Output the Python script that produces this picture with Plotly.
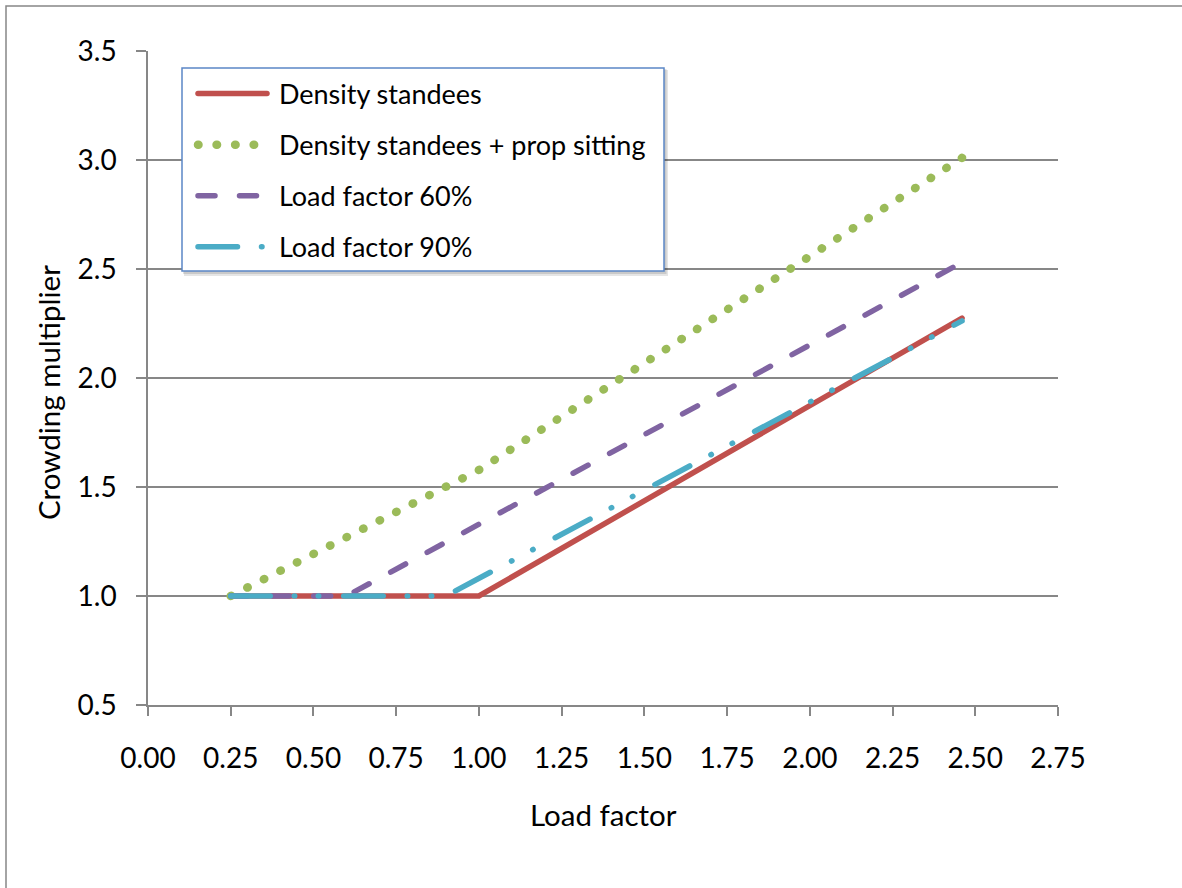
import plotly.graph_objects as go

# ---- data ----
density_x = [0.25, 1.0, 2.46]
density_y = [1.0, 1.0, 2.275]

prop_sitting_x = [0.25, 1.0, 2.46]
prop_sitting_y = [1.0, 1.578, 3.01]

lf60_x = [0.25, 0.6, 2.46]
lf60_y = [1.0, 1.0, 2.53]

lf90_x = [0.25, 0.9, 2.46]
lf90_y = [1.0, 1.0, 2.262]

series_names = ["Density standees", "Density standees + prop sitting",
                "Load factor 60%", "Load factor 90%"]

x_title = "Load factor"
y_title = "Crowding multiplier"

FONT = "Lato, Carlito, Calibri, sans-serif"
GRID = "#878787"
PAD = "\u00a0"

fig = go.Figure()
fig.add_trace(go.Scatter(x=density_x, y=density_y, mode="lines", name=PAD + series_names[0],
                         legendgroup="a", line=dict(color="#C0504D", width=5.5)))
fig.add_trace(go.Scatter(x=prop_sitting_x, y=prop_sitting_y, mode="lines", name=PAD + series_names[1],
                         legendgroup="b", line=dict(color="#9BBB59", width=8.5, dash="0.5px,18.05px")))
fig.add_trace(go.Scatter(x=lf60_x, y=lf60_y, mode="lines", name=PAD + series_names[2],
                         legendgroup="c", line=dict(color="#8064A2", width=5.5, dash="17px,24.5px")))
fig.add_trace(go.Scatter(x=lf90_x, y=lf90_y, mode="lines", name=PAD + series_names[3],
                         legendgroup="d", line=dict(color="#4BACC6", width=5.5,
                                                   dash="39.5px,24px,0.5px,23.5px,0.5px,25px")))

W, H = 1182, 888
L, R, T, B = 148, 124, 51, 183
pw, ph = W - L - R, H - T - B


def px(x):
    return (x - L) / pw


def py(y):
    return 1 - (y - T) / ph


fig.update_layout(
    width=W, height=H, autosize=False,
    margin=dict(l=L, r=R, t=T, b=B, pad=0),
    paper_bgcolor="white", plot_bgcolor="white",
    font=dict(family=FONT, size=27, color="black"),
    showlegend=True,
    legend=dict(
        x=px(193), y=py(69.5), xanchor="left", yanchor="top",
        bgcolor="rgba(0,0,0,0)", borderwidth=0,
        font=dict(family=FONT, size=27, color="black"),
        itemwidth=69, tracegroupgap=13, traceorder="grouped",
    ),
    xaxis=dict(
        range=[0, 2.75], dtick=0.25, tick0=0, tickformat=".2f",
        showgrid=False, zeroline=False,
        showline=True, linecolor=GRID, linewidth=1.5,
        ticks="outside", ticklen=9, tickwidth=1.5, tickcolor=GRID,
        ticklabelstandoff=19,
        tickfont=dict(family=FONT, size=28),
    ),
    yaxis=dict(
        range=[0.5, 3.5], dtick=0.5, tick0=0.5, tickformat=".1f",
        showgrid=True, gridcolor=GRID, gridwidth=1.5, zeroline=False,
        showline=True, linecolor=GRID, linewidth=1.5,
        ticks="outside", ticklen=10, tickwidth=1.5, tickcolor=GRID,
        ticklabelstandoff=14,
        tickfont=dict(family=FONT, size=28),
    ),
    annotations=[
        dict(text=x_title, xref="paper", yref="paper", x=px(603), y=py(814),
             xanchor="center", yanchor="middle", showarrow=False,
             font=dict(family=FONT, size=29.5)),
        dict(text=y_title, xref="paper", yref="paper", x=px(48), y=py(393),
             xanchor="center", yanchor="middle", showarrow=False, textangle=-90,
             font=dict(family=FONT, size=29.5)),
    ],
    shapes=[
        # outer chart border (extends past the right/bottom edges of the picture)
        dict(type="rect", xref="paper", yref="paper",
             x0=px(6), y0=py(6), x1=px(1200), y1=py(900),
             line=dict(color=GRID, width=1.5), fillcolor="rgba(0,0,0,0)", layer="below"),
        # soft legend shadow
        dict(type="rect", xref="paper", yref="paper",
             x0=px(184), y0=py(70), x1=px(668), y1=py(276),
             line=dict(width=0), fillcolor="rgba(0,0,0,0.10)", layer="above"),
        dict(type="rect", xref="paper", yref="paper",
             x0=px(183), y0=py(69), x1=px(666.5), y1=py(274),
             line=dict(width=0), fillcolor="rgba(0,0,0,0.12)", layer="above"),
        # legend box
        dict(type="rect", xref="paper", yref="paper",
             x0=px(182), y0=py(68), x1=px(664), y1=py(271),
             line=dict(color="#5B87C6", width=1.5), fillcolor="white", layer="above"),
    ],
)

css = ("var s=document.createElement('style');"
       "s.textContent='body{margin:0;overflow:hidden} .js-line{stroke-linecap:round}';"
       "document.head.appendChild(s);")
fig.write_html("out.html", post_script=css, config={"displayModeBar": False})
